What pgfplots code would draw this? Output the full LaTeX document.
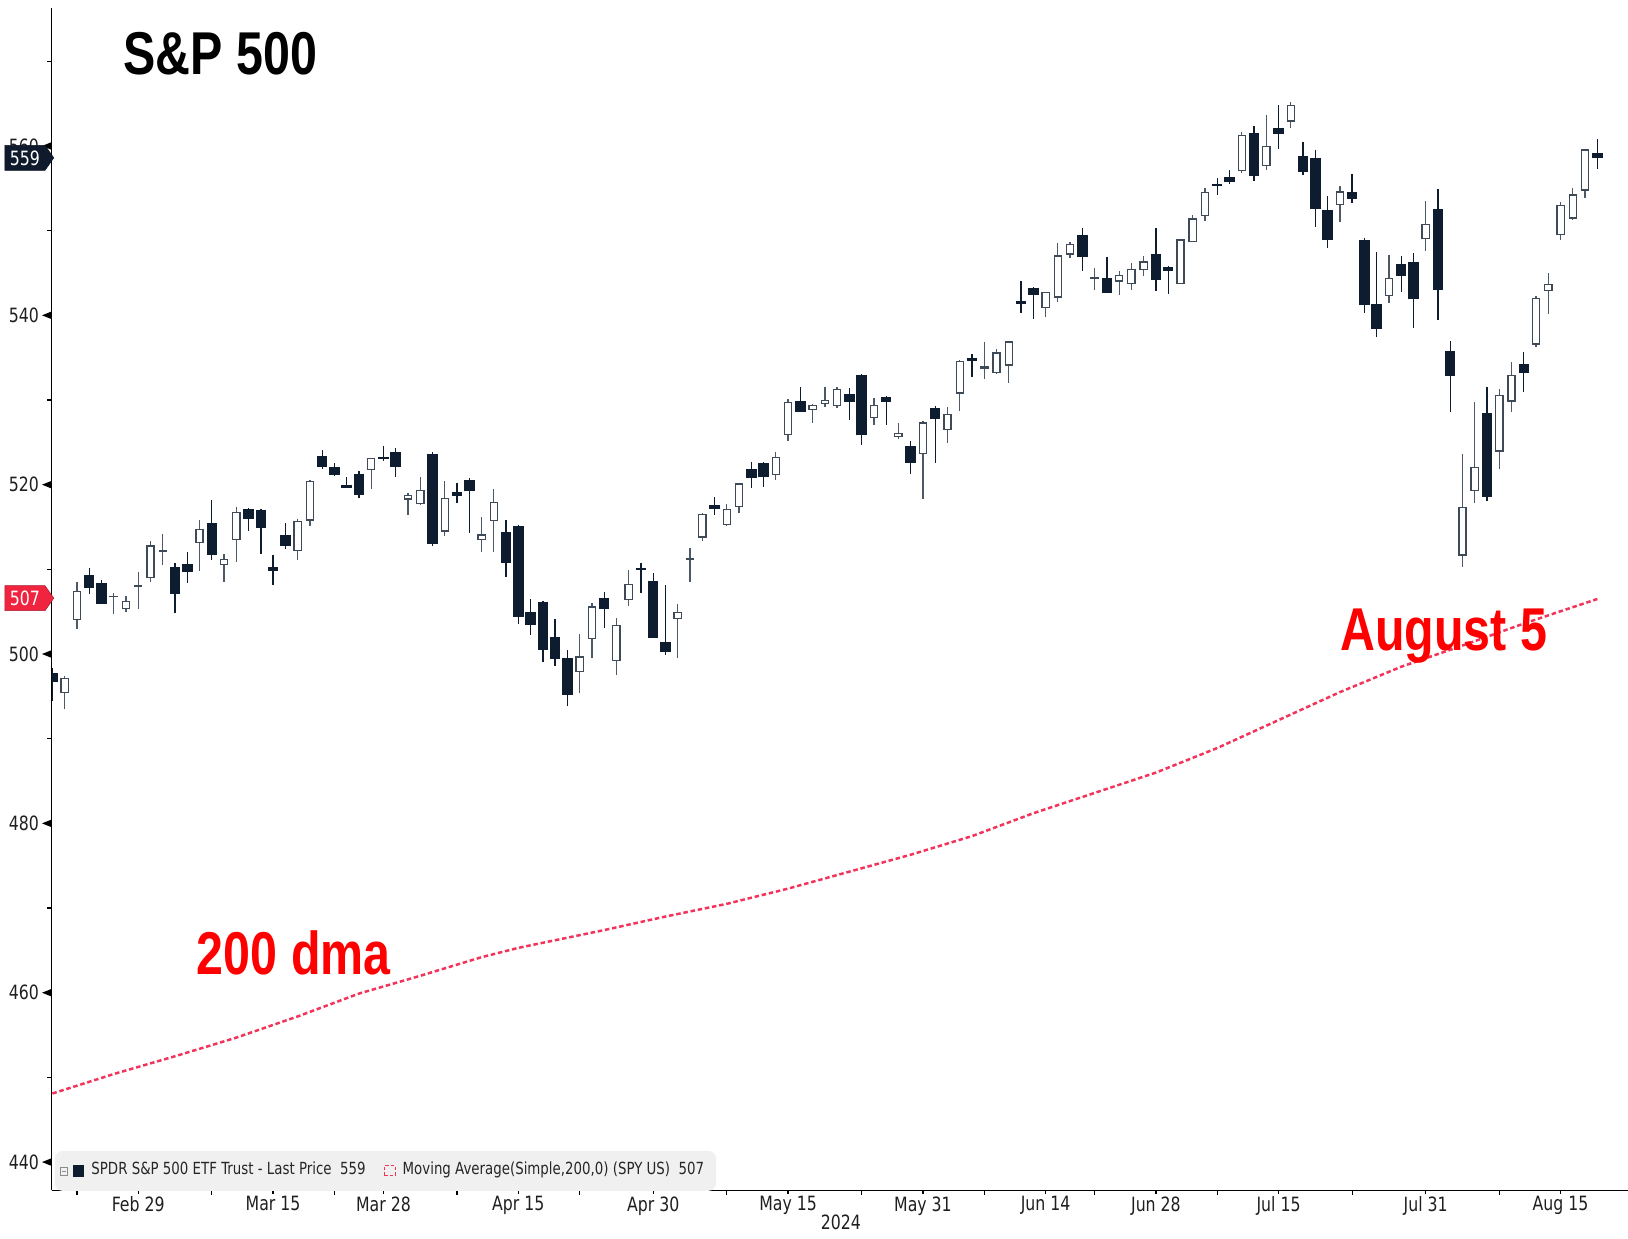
\documentclass[border=0pt]{standalone}
\usepackage{pgfplots}
\pgfplotsset{compat=1.18}
\usepackage{pgfplotstable}
\usepackage{fontspec}
\usetikzlibrary{shapes.symbols}
\setmainfont{DejaVu Sans}[FakeStretch=0.8]
\newfontfamily\headfont{Liberation Sans}[FakeStretch=0.8]

\definecolor{bear}{HTML}{0E1C2F}
\definecolor{bullline}{HTML}{3F4A58}
\definecolor{wickbull}{HTML}{4E5968}
\definecolor{dmared}{HTML}{F2335A}
\definecolor{tagred}{HTML}{F0243F}
\definecolor{navytag}{HTML}{0F1B2D}

% SPY daily candles, i = trading day from 20 Feb 2024
\pgfplotstableread{
i o h l c
0 497.72 498.41 494.45 496.76
1 495.42 497.37 493.56 497.21
2 504.01 508.49 503.02 507.50
3 509.27 510.13 507.10 507.85
4 508.30 508.75 505.86 505.99
5 506.70 507.16 504.75 506.93
6 505.33 506.86 504.96 506.26
7 508.07 509.74 505.35 508.08
8 508.98 513.29 508.56 512.85
9 512.03 514.20 510.50 512.30
10 510.24 510.70 504.91 507.18
11 510.55 512.07 508.42 509.75
12 513.14 515.89 509.81 514.81
13 515.46 518.22 511.13 511.72
14 510.48 511.88 508.50 511.28
15 513.45 517.38 510.86 516.78
16 517.11 517.29 514.49 515.97
17 516.97 517.13 511.82 514.95
18 510.21 511.70 508.12 509.83
19 514.00 515.48 512.44 512.86
20 512.15 516.00 511.12 515.71
21 515.77 520.62 515.08 520.48
22 523.39 524.11 521.91 522.20
23 522.11 522.61 520.97 521.21
24 519.80 520.95 519.61 519.77
25 521.23 521.58 518.40 518.81
26 521.71 523.21 519.49 523.17
27 523.21 524.61 522.78 523.07
28 523.83 524.38 520.97 522.16
29 518.24 518.98 516.48 518.84
30 517.72 520.95 517.67 519.41
31 523.52 523.87 512.76 513.07
32 514.46 520.44 514.01 518.43
33 519.15 520.18 517.89 518.72
34 520.50 520.75 514.35 519.32
35 513.48 516.16 512.09 514.12
36 515.68 519.48 512.08 518.00
37 514.37 515.82 509.08 510.85
38 515.13 515.30 503.58 504.45
39 504.94 506.50 502.21 503.53
40 506.05 506.22 499.12 500.55
41 501.98 504.13 498.56 499.52
42 499.44 500.46 493.86 495.16
43 497.83 502.38 495.43 499.72
44 501.78 506.09 499.53 505.65
45 506.56 507.37 503.13 505.41
46 499.18 504.27 497.49 503.49
47 506.35 509.88 505.70 508.26
48 510.09 510.75 507.25 510.06
49 508.56 509.56 501.98 501.98
50 501.38 508.19 499.87 500.35
51 504.15 505.89 499.55 505.03
52 511.16 512.55 508.56 511.29
53 513.75 516.61 513.30 516.57
54 517.56 518.57 516.45 517.14
55 515.26 517.74 515.14 517.19
56 517.38 520.21 516.71 520.17
57 521.81 522.64 519.59 520.84
58 522.56 522.67 519.74 520.91
59 521.11 523.83 520.56 523.30
60 525.83 530.08 525.18 529.78
61 529.88 531.52 528.54 528.69
62 528.81 529.52 527.32 529.45
63 529.57 531.56 529.17 530.06
64 529.28 531.52 529.07 531.36
65 530.65 531.38 527.60 529.83
66 532.96 533.07 524.72 525.96
67 527.85 530.27 527.11 529.44
68 530.27 530.51 527.11 529.81
69 525.68 527.31 525.37 526.10
70 524.52 525.20 521.33 522.61
71 523.59 527.50 518.36 527.37
72 529.02 529.31 522.60 527.80
73 526.46 529.15 524.96 528.39
74 530.77 534.69 528.73 534.67
75 534.98 535.42 532.68 534.66
76 533.66 536.89 532.54 534.01
77 533.18 535.99 533.06 535.66
78 534.07 537.01 532.05 536.95
79 541.63 544.12 540.30 541.36
80 543.15 543.33 539.59 542.45
81 540.88 542.81 539.85 542.78
82 542.08 548.53 541.61 547.10
83 547.16 548.62 546.73 548.49
84 549.44 550.28 545.30 547.00
85 544.40 545.65 543.02 544.51
86 544.33 546.95 542.62 542.74
87 543.99 545.20 542.44 544.83
88 543.69 546.24 543.03 545.51
89 545.37 546.96 544.61 546.37
90 547.16 550.28 542.95 544.22
91 545.63 545.88 542.52 545.34
92 543.70 549.01 543.65 549.01
93 548.69 551.83 548.65 551.46
94 551.77 555.05 551.12 554.64
95 555.44 556.25 554.19 555.28
96 556.26 557.18 555.52 555.82
97 557.07 561.67 556.77 561.32
98 561.44 562.33 555.83 556.48
99 557.63 563.67 557.15 559.99
100 562.03 564.84 559.63 561.53
101 562.87 565.16 562.10 564.86
102 558.80 560.51 556.61 556.94
103 558.51 559.52 550.43 552.66
104 552.42 554.08 547.91 548.99
105 553.00 555.27 551.02 554.65
106 554.54 556.74 553.28 553.78
107 548.86 549.17 540.29 541.23
108 541.35 547.46 537.45 538.41
109 542.28 547.19 541.49 544.44
110 546.02 547.05 542.72 544.76
111 546.26 547.34 538.52 542.00
112 548.98 553.50 547.58 550.81
113 552.57 554.87 539.43 543.01
114 535.75 536.99 528.60 532.90
115 511.64 523.58 510.27 517.38
116 519.22 529.75 517.87 522.15
117 528.47 531.59 518.05 518.66
118 523.91 531.29 521.84 530.65
119 529.81 534.51 528.56 532.99
120 534.21 535.73 530.95 533.27
121 536.53 542.28 536.28 542.04
122 542.85 544.96 540.12 543.75
123 549.50 553.36 548.88 553.07
124 551.42 555.02 551.26 554.31
125 554.73 559.61 553.86 559.61
126 559.15 560.83 557.33 558.70
}\spy

% 200-day simple moving average
\pgfplotstableread{
i v
0 448.1
5 450.4
10 452.5
15 454.7
20 457.2
25 459.9
30 462.0
35 464.2
38 465.3
40 465.9
45 467.4
50 469.0
55 470.5
60 472.3
65 474.3
70 476.3
75 478.5
80 481.2
85 483.6
90 486.0
95 488.9
100 492.2
105 495.5
110 498.5
115 501.0
120 503.6
126 506.5
}\dma

\newcommand\lasttag[2]{\tikz[baseline=(t.base)]\node[signal, signal to=east,
  signal pointer angle=110, fill=#1, draw=#1!70!black, line width=0.15pt,
  text=white, inner xsep=0.5mm, inner ysep=0.5mm, minimum height=2.5mm] (t) {#2};}
\newcommand\ytri{\tikz[baseline=-0.67ex]\fill[black] (0,0)--(0.9mm,0.36mm)--(0.9mm,-0.36mm)--cycle;}

\begin{document}
\begin{tikzpicture}
\begin{axis}[
    name=ax,
    scale only axis, width=157.6mm, height=118.2mm,
    xmin=-0.057, xmax=128.5, ymin=436.68, ymax=576.3,
    axis lines*=left,
    axis line style={line width=0.4pt, black},
    tick align=outside,
    major tick length=0.4mm, minor tick length=0.45mm,
    every tick/.style={black, line width=0.35pt},
    major y tick style={draw=none},
    /pgf/number format/assume math mode=true,
    ticklabel style={font=\fontsize{5.6}{6.5}\selectfont, text=black!88},
    xtick={7,18,27,38,49,60,71,81,90,100,112,123},
    xticklabels={Feb 29,Mar 15,Mar 28,Apr 15,Apr 30,May 15,May 31,Jun 14,Jun 28,Jul 15,Jul 31,Aug 15},
    minor xtick={2,13,23,33,43,55,66,76,85,95,106,118},
    xticklabel style={inner sep=0pt, anchor=north, yshift=-0.15mm},
    ytick={440,460,...,560},
    minor ytick={450,470,...,570},
    yticklabel={\pgfmathprintnumber{\tick}\hspace{0.3mm}\ytri},
    yticklabel style={inner xsep=0pt, anchor=east, xshift=0.4mm},
    extra y ticks={558.6,506.6},
    extra y tick labels={\lasttag{navytag}{559},\lasttag{tagred}{507}},
    extra y tick style={yticklabel style={xshift=0.3mm}},
    xlabel={2024},
    xlabel style={font=\fontsize{5.6}{6.5}\selectfont, text=black!88, at={(rel axis cs:0.5006,0)}, anchor=north, yshift=-2.4mm, inner sep=0pt},
    legend columns=-1,
    legend style={at={(rel axis cs:0.0015,0.0005)}, anchor=south west, yshift=-0.2mm,
      fill=black!6, draw=none, rounded corners=0.8mm,
      inner xsep=0.5mm, inner ysep=0.4mm,
      font=\fontsize{4.75}{5.5}\selectfont, text=black!85,
      /tikz/every even column/.append style={column sep=1.1mm}},
    legend cell align=left,
]
% 200 dma
\addplot[forget plot, dmared, line width=0.25mm, dash pattern=on 0.45mm off 0.28mm] table[x=i, y=v] {\dma};

% wicks
\addplot[forget plot, draw=none, mark=none,
  restrict expr to domain={\thisrow{c}-\thisrow{o}}{0:1000},
  error bars/.cd, y dir=both, y explicit, error mark=none,
  error bar style={line width=0.13mm, draw=wickbull}]
  table[x=i, y expr={(\thisrow{h}+\thisrow{l})/2}, y error expr={(\thisrow{h}-\thisrow{l})/2}] {\spy};
\addplot[forget plot, draw=none, mark=none,
  restrict expr to domain={\thisrow{c}-\thisrow{o}}{-1000:-0.000001},
  error bars/.cd, y dir=both, y explicit, error mark=none,
  error bar style={line width=0.13mm, draw=bear}]
  table[x=i, y expr={(\thisrow{h}+\thisrow{l})/2}, y error expr={(\thisrow{h}-\thisrow{l})/2}] {\spy};

% bearish bodies
\addplot[forget plot, draw=none, mark=none,
  restrict expr to domain={\thisrow{c}-\thisrow{o}}{-1000:-0.000001},
  error bars/.cd, y dir=both, y explicit, error mark=none,
  error bar style={line width=1.05mm, draw=bear}]
  table[x=i, y expr={(\thisrow{o}+\thisrow{c})/2}, y error expr={max((\thisrow{o}-\thisrow{c})/2,0.09)+0.05}] {\spy};

% bullish bodies: dark outline, white inside
\addplot[forget plot, draw=none, mark=none,
  restrict expr to domain={\thisrow{c}-\thisrow{o}}{0:1000},
  error bars/.cd, y dir=both, y explicit, error mark=none,
  error bar style={line width=0.85mm, draw=bullline}]
  table[x=i, y expr={(\thisrow{o}+\thisrow{c})/2}, y error expr={max((\thisrow{c}-\thisrow{o})/2,0.09)}] {\spy};
\addplot[forget plot, draw=none, mark=none,
  restrict expr to domain={\thisrow{c}-\thisrow{o}}{0.36:1000},
  error bars/.cd, y dir=both, y explicit, error mark=none,
  error bar style={line width=0.59mm, draw=white}]
  table[x=i, y expr={(\thisrow{o}+\thisrow{c})/2}, y error expr={(\thisrow{c}-\thisrow{o})/2-0.155}] {\spy};

\addlegendimage{legend image code/.code={
  \draw[sharp corners, black!45, line width=0.25pt] (0,-0.45mm) rectangle (0.75mm,0.35mm);
  \draw[black!45, line width=0.25pt] (0.15mm,-0.05mm) -- (0.6mm,-0.05mm);
  \fill[sharp corners, bear] (1.35mm,-0.5mm) rectangle (2.35mm,0.5mm);}}
\addlegendentry{SPDR S\&P 500 ETF Trust - Last Price\ \ 559}
\addlegendimage{legend image code/.code={
  \draw[sharp corners, dmared, line width=0.3pt, dash pattern=on 0.35mm off 0.2mm] (0,-0.5mm) rectangle (1.1mm,0.5mm);}}
\addlegendentry{Moving Average(Simple,200,0) (SPY US)\ \ 507}

\node[anchor=base west, inner sep=0pt, font=\headfont\bfseries\fontsize{17.2}{20}\selectfont] at (axis cs:5.76,568.4) {S\&P 500};
\node[anchor=base west, inner sep=0pt, text=red, font=\headfont\bfseries\fontsize{17.2}{20}\selectfont] at (axis cs:11.73,462.2) {200 dma};
\node[anchor=base west, inner sep=0pt, text=red, font=\headfont\bfseries\fontsize{17.2}{20}\selectfont] at (axis cs:104.97,500.37) {August 5};
\end{axis}
\pgfresetboundingbox
\path[use as bounding box] ([xshift=-5.17mm, yshift=-4.8mm]ax.south west) rectangle ([yshift=0.8mm]ax.north east);
\end{tikzpicture}
\end{document}
